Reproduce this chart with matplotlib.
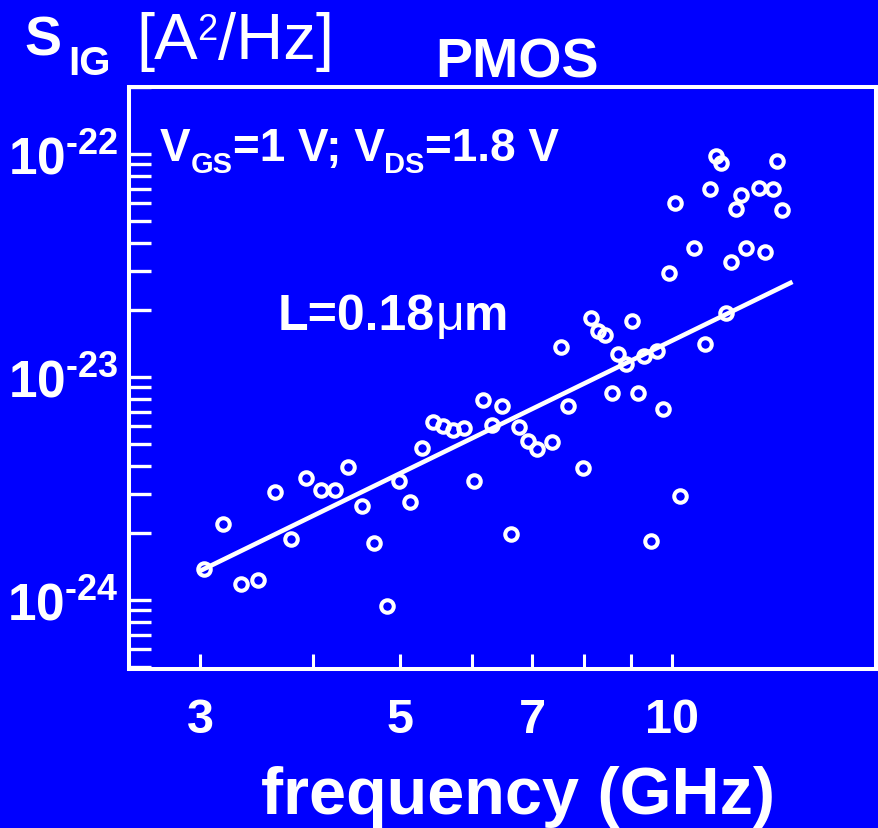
import numpy as np
import matplotlib
matplotlib.use("Agg")
import matplotlib.pyplot as plt
from matplotlib.ticker import FixedLocator, NullLocator, LogLocator, NullFormatter

plt.rcParams['font.family'] = ['Liberation Sans', 'DejaVu Sans']
plt.rcParams['mathtext.fontset'] = 'custom'
plt.rcParams['mathtext.rm'] = 'Liberation Sans:bold'
plt.rcParams['mathtext.bf'] = 'Liberation Sans:bold'
plt.rcParams['mathtext.it'] = 'Liberation Sans:bold'
plt.rcParams['mathtext.default'] = 'rm'

# ---------------- data ----------------
freq_ghz = [3.03, 3.18, 3.33, 3.48, 3.63, 3.78, 3.93, 4.08, 4.23, 4.38,
            4.53, 4.68, 4.83, 4.98, 5.13, 5.28, 5.43, 5.58, 5.72, 5.88,
            6.03, 6.18, 6.32, 6.48, 6.63, 6.77, 6.92, 7.08, 7.37, 7.53,
            7.68, 7.97, 8.13, 8.28, 8.44, 8.58, 8.72, 8.89, 9.03, 9.18,
            9.32, 9.48, 9.62, 9.77, 9.92, 10.08, 10.22, 10.58, 10.88, 11.02,
            11.19, 11.33, 11.48, 11.62, 11.77, 11.92, 12.07, 12.49, 12.67, 12.93,
            13.06, 13.23]
s_ig = [1.38e-24, 2.19e-24, 1.18e-24, 1.23e-24, 3.05e-24, 1.88e-24, 3.54e-24, 3.11e-24, 3.11e-24, 3.94e-24,
        2.63e-24, 1.80e-24, 9.37e-25, 3.43e-24, 2.74e-24, 4.82e-24, 6.30e-24, 6.01e-24, 5.77e-24, 5.92e-24,
        3.43e-24, 7.91e-24, 6.11e-24, 7.39e-24, 1.98e-24, 5.97e-24, 5.16e-24, 4.75e-24, 5.10e-24, 1.37e-23,
        7.39e-24, 3.90e-24, 1.83e-23, 1.61e-23, 1.55e-23, 8.45e-24, 1.27e-23, 1.14e-23, 1.78e-23, 8.45e-24,
        1.24e-23, 1.84e-24, 1.31e-23, 7.16e-24, 2.94e-23, 6.03e-23, 2.93e-24, 3.78e-23, 1.40e-23, 6.97e-23,
        9.83e-23, 9.11e-23, 1.93e-23, 3.29e-23, 5.67e-23, 6.57e-23, 3.78e-23, 7.04e-23, 3.65e-23, 6.97e-23,
        9.33e-23, 5.63e-23]
fit_freq = [3.0, 13.6]
fit_s = [1.35e-24, 2.67e-23]

x_ticks = [3, 4, 5, 6, 7, 8, 9, 10]
x_tick_labels = ['3', '', '5', '', '7', '', '', '10']
y_ticks = [1e-24, 1e-23, 1e-22]
y_tick_labels = [r'$10^{\text{-24}}$', r'$10^{\text{-23}}$', r'$10^{\text{-22}}$']

BLUE = '#0000FF'
W, H = 879, 829

fig = plt.figure(figsize=(W / 100, H / 100), dpi=100, facecolor=BLUE)
ax = fig.add_axes([129.5 / W, (H - 670) / H, (876 - 129.5) / W, (670 - 87.5) / H], facecolor=BLUE)

ax.set_xscale('log')
ax.set_yscale('log')
ax.set_xlim(2.506, 16.83)
ax.set_ylim(4.904e-25, 2.008e-22)

ax.plot(fit_freq, fit_s, color='white', lw=3.3, solid_capstyle='butt', zorder=2)
ax.plot(freq_ghz, s_ig, 'o', mfc='none', mec='white', ms=9, mew=2.9, zorder=3)

for sp in ax.spines.values():
    sp.set_color('white')
    sp.set_linewidth(2.9)

ax.xaxis.set_major_locator(FixedLocator(x_ticks))
ax.xaxis.set_minor_locator(NullLocator())
ax.set_xticklabels(x_tick_labels)
ax.yaxis.set_major_locator(FixedLocator(y_ticks))
ax.yaxis.set_minor_locator(LogLocator(base=10, subs=np.arange(2, 10)))
ax.yaxis.set_minor_formatter(NullFormatter())
ax.set_yticklabels(y_tick_labels)

ax.tick_params(axis='x', which='major', direction='in', length=10.8, width=2.2,
               colors='white', labelsize=35, pad=20, top=False)
ax.tick_params(axis='y', which='both', direction='in', length=15.8, width=2.4,
               colors='white', right=False)
ax.tick_params(axis='y', which='major', labelsize=37, pad=8)
for lab in ax.get_xticklabels() + ax.get_yticklabels():
    lab.set_fontweight('bold')

ax.set_xlabel('frequency (GHz)', fontsize=48, fontweight='bold', color='white')
ax.xaxis.label.set_va('baseline')
ax.xaxis.set_label_coords((518 - 129.5) / (876 - 129.5), -(814 - 670) / (670 - 87.5))

renderer = fig.canvas.get_renderer()


def seq(x, y, pieces):
    for s, size, weight, dy in pieces:
        t = fig.text(x / W, 1 - (y + dy) / H, s, fontsize=size, fontweight=weight,
                     color='white', ha='left', va='baseline')
        bb = t.get_window_extent(renderer)
        x = bb.x1


seq(24, 55, [("S", 40, 'bold', 0)])
seq(68, 75, [("IG", 29, 'bold', 0)])
seq(136, 59, [("[A", 47, 'normal', 0), ("2", 26, 'normal', -19), ("/Hz]", 47, 'normal', 0)])
fig.text(435 / W, 1 - 78 / H, "PMOS", fontsize=40, fontweight='bold', color='white',
         ha='left', va='baseline')
seq(160, 161, [("V", 33, 'bold', 0), ("GS", 21, 'bold', 12), ("=1 V; V", 33, 'bold', 0),
               ("DS", 21, 'bold', 12), ("=1.8 V", 33, 'bold', 0)])
seq(278, 330, [("L=0.18", 36, 'bold', 0), ("\u03bc", 36, 'normal', 0), ("m", 36, 'bold', 0)])

fig.savefig('out.png', dpi=100, facecolor=BLUE)
